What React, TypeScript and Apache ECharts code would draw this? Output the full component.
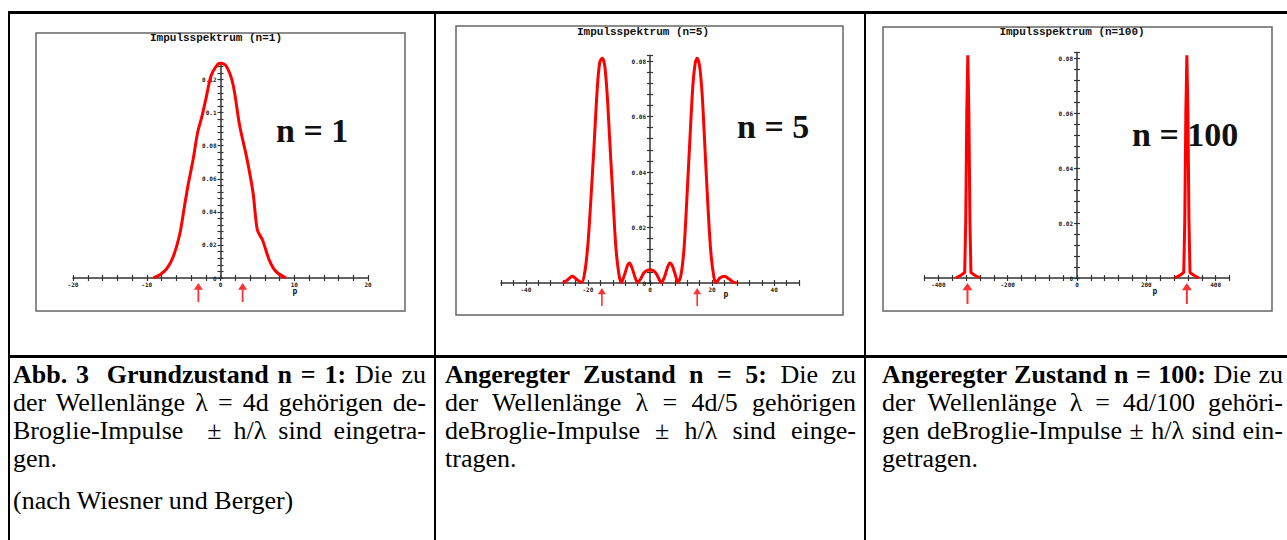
import React, { useEffect, useRef } from "react";
import * as echarts from "echarts";

// ---------- Data ----------
// Chart 1: Impulsspektrum (n=1)
const p1 = [-9.1, -8.2, -7.3, -6.4, -5.5, -4.9, -4.4, -3.7, -3.1, -2.5, -1.9, -1.3, -0.6, 0, 0.8, 1.7, 2.6, 3.5, 4.4, 5.0, 5.7, 6.6, 7.5, 8.9];
const v1 = [0, 0.002, 0.0055, 0.013, 0.027, 0.043, 0.056, 0.072, 0.088, 0.098, 0.11, 0.122, 0.128, 0.13, 0.128, 0.117, 0.092, 0.074, 0.052, 0.029, 0.023, 0.011, 0.004, 0];
const arrows1 = [-3.0, 3.0];

// Chart 2: Impulsspektrum (n=5)
const p2 = [-28, -26.5, -25, -23.5, -22, -21, -20, -19, -18, -17, -16.2, -15.4, -14.6, -13.8, -13, -12, -11, -10, -9.2, -8.2, -7.2, -6.6, -5.8, -4.8, -4.0, -3.0, -2.0, -1.0, 0, 1.0, 2.0, 3.0, 3.6, 4.6, 5.6, 6.4, 7.2, 8.2, 9.0, 10, 11, 12, 13, 13.8, 14.6, 15.2, 16, 16.8, 17.6, 18.6, 19.6, 20.6, 21.3, 22.5, 24, 25.5, 27, 28];
const v2 = [0, 0.0012, 0.0024, 0.0012, 0.0002, 0.004, 0.014, 0.031, 0.05, 0.07, 0.0795, 0.081, 0.0785, 0.068, 0.052, 0.032, 0.013, 0.003, 0.0002, 0.003, 0.0065, 0.0072, 0.0055, 0.002, 0.0002, 0.0015, 0.0036, 0.0045, 0.0048, 0.0045, 0.0034, 0.0012, 0.0001, 0.002, 0.0055, 0.0072, 0.0062, 0.0028, 0.0002, 0.003, 0.013, 0.033, 0.055, 0.071, 0.0795, 0.081, 0.078, 0.068, 0.051, 0.029, 0.011, 0.002, 0.0002, 0.0018, 0.0024, 0.0014, 0.0002, 0];
const arrows2 = [-15.5, 15.2];

// Chart 3: Impulsspektrum (n=100)
const p3Left = [-350, -335, -324, -321, -318, -315, -312, -309, -306, -295, -280];
const v3Left = [0, 0.001, 0.002, 0.021, 0.06, 0.081, 0.06, 0.021, 0.002, 0.001, 0];
const p3Right = [282, 297, 308, 311, 314, 317, 320, 323, 326, 337, 352];
const v3Right = [0, 0.001, 0.002, 0.021, 0.06, 0.081, 0.06, 0.021, 0.002, 0.001, 0];
const arrows3 = [-316, 317];

const titles = ["Impulsspektrum (n=1)", "Impulsspektrum (n=5)", "Impulsspektrum (n=100)"];
const stateLabels = ["n = 1", "n = 5", "n = 100"];
// [min, max, tick interval, label step]
const xScales = [
  [-20, 20, 2, 10],
  [-48, 48, 4, 20],
  [-440, 440, 40, 200],
];
const yScales = [
  [0, 0.13, 0.004, 0.02],
  [0, 0.082, 0.004, 0.02],
  [0, 0.082, 0.004, 0.02],
];
const axisName = "p";

// ---------- Layout ----------
const grids = [
  { left: 73, top: 63, width: 295, height: 215 },
  { left: 501, top: 55.5, width: 298, height: 227.5 },
  { left: 924.5, top: 52.5, width: 305, height: 225.5 },
];
const boxes = [
  { x: 36, y: 33, w: 369, h: 278 },
  { x: 456, y: 26, w: 387, h: 289 },
  { x: 883, y: 27, w: 389, h: 284 },
];
const titlePos = [
  [216, 38],
  [643, 32],
  [1072, 32],
];
const labelPos = [
  [276, 130],
  [737, 126],
  [1132, 134],
];
const namePos = [
  [295, 291],
  [726, 294],
  [1155, 291],
];
const arrowStyle = [
  { size: [9, 19], offset: 14.5 },
  { size: [8, 18], offset: 14 },
  { size: [10, 21], offset: 15.5 },
];

const RED = "#ff0000";
const AX = "#333333";
const ARROW = "path://M5 0 L10 7 L6 7 L6 20 L4 20 L4 7 L0 7 Z";

const isMultiple = (v: number, step: number) =>
  Math.abs(v / step - Math.round(v / step)) < 1e-6;

function buildOption() {
  const xAxis: any[] = [];
  const yAxis: any[] = [];
  const series: any[] = [];
  const graphic: any[] = [];

  for (let g = 0; g < 3; g++) {
    const [xmin, xmax, xint, xmaj] = xScales[g];
    const [ymin, ymax, yint, ymaj] = yScales[g];
    // the vertical axis sits at p = 0
    const zeroOffset = -(grids[g].width * (0 - xmin)) / (xmax - xmin);
    const zeroOffsetR = -(grids[g].width * (xmax - 0)) / (xmax - xmin);
    const labelBase = {
      fontSize: 6,
      fontWeight: "bold",
      color: "#222",
      fontFamily: "DejaVu Sans Mono",
    };
    xAxis.push({
      type: "value",
      gridIndex: g,
      min: xmin,
      max: xmax,
      interval: xint,
      position: "bottom",
      axisLine: { show: true, onZero: false, lineStyle: { color: AX, width: 1.5 } },
      axisTick: { show: true, length: 3, lineStyle: { color: AX, width: 1.2 } },
      axisLabel: {
        ...labelBase,
        margin: 3,
        formatter: (v: number) => (isMultiple(v, xmaj) ? String(Math.round(v)) : ""),
      },
      splitLine: { show: false },
    });
    xAxis.push({
      type: "value",
      gridIndex: g,
      min: xmin,
      max: xmax,
      interval: xint,
      position: "bottom",
      offset: 0,
      axisLine: { show: false, onZero: false },
      axisTick: { show: true, inside: true, length: 3, lineStyle: { color: AX, width: 1.2 } },
      axisLabel: { show: false },
      splitLine: { show: false },
    });
    yAxis.push({
      type: "value",
      gridIndex: g,
      min: ymin,
      max: ymax,
      interval: yint,
      position: "left",
      offset: zeroOffset,
      axisLine: { show: true, onZero: false, lineStyle: { color: AX, width: 1.5 } },
      axisTick: { show: true, length: 3, lineStyle: { color: AX, width: 1.2 } },
      axisLabel: {
        ...labelBase,
        margin: 4,
        formatter: (v: number) =>
          isMultiple(v, ymaj) ? (Math.abs(v) < 1e-9 ? "0" : String(parseFloat(v.toFixed(2)))) : "",
      },
      splitLine: { show: false },
    });
    yAxis.push({
      type: "value",
      gridIndex: g,
      min: ymin,
      max: ymax,
      interval: yint,
      position: "right",
      offset: zeroOffsetR,
      axisLine: { show: false, onZero: false },
      axisTick: { show: true, length: 3, lineStyle: { color: AX, width: 1.2 } },
      axisLabel: { show: false },
      splitLine: { show: false },
    });

    const b = boxes[g];
    graphic.push({
      type: "rect",
      z: 0,
      shape: { x: b.x, y: b.y, width: b.w, height: b.h },
      style: { fill: "none", stroke: "#666", lineWidth: 1.5 },
    });
    graphic.push({
      type: "text",
      z: 0,
      x: titlePos[g][0],
      y: titlePos[g][1],
      style: {
        text: titles[g],
        font: 'bold 11px "Liberation Mono"',
        fill: "#111",
        align: "center",
        verticalAlign: "middle",
      },
    });
    graphic.push({
      type: "text",
      z: 0,
      x: labelPos[g][0],
      y: labelPos[g][1],
      style: {
        text: stateLabels[g],
        font: 'bold 34px "Liberation Serif"',
        fill: "#111",
        align: "left",
        verticalAlign: "middle",
      },
    });
    graphic.push({
      type: "text",
      z: 0,
      x: namePos[g][0],
      y: namePos[g][1],
      style: {
        text: axisName,
        font: 'bold 8px "DejaVu Sans Mono"',
        fill: "#111",
        align: "center",
        verticalAlign: "middle",
      },
    });
  }

  const lineBase = {
    type: "line",
    symbol: "none",
    showSymbol: false,
    silent: true,
    z: 3,
    lineStyle: { color: RED, width: 3 },
    itemStyle: { color: RED },
  };

  series.push({ ...lineBase, xAxisIndex: 0, yAxisIndex: 0, smooth: 0.3, data: p1.map((p, i) => [p, v1[i]]) });
  series.push({ ...lineBase, xAxisIndex: 2, yAxisIndex: 2, smooth: 0.3, data: p2.map((p, i) => [p, v2[i]]) });
  series.push({ ...lineBase, xAxisIndex: 4, yAxisIndex: 4, data: p3Left.map((p, i) => [p, v3Left[i]]) });
  series.push({ ...lineBase, xAxisIndex: 4, yAxisIndex: 4, data: p3Right.map((p, i) => [p, v3Right[i]]) });

  const arrowSets = [arrows1, arrows2, arrows3];
  arrowSets.forEach((arr, g) => {
    series.push({
      type: "scatter",
      xAxisIndex: 2 * g,
      yAxisIndex: 2 * g,
      clip: false,
      silent: true,
      symbol: ARROW,
      symbolSize: arrowStyle[g].size,
      symbolOffset: [0, arrowStyle[g].offset],
      itemStyle: { color: RED },
      z: 4,
      data: arr.map((p) => [p, 0]),
    });
  });

  return {
    animation: false,
    backgroundColor: "#ffffff",
    grid: grids.map((gr) => ({ ...gr, containLabel: false, outerBoundsMode: "none" })),
    xAxis,
    yAxis,
    series,
    graphic,
  };
}

const captionFont: React.CSSProperties = {
  fontFamily: '"Liberation Serif", "Times New Roman", serif',
  fontSize: 26,
  lineHeight: "28px",
  color: "#000",
  position: "absolute",
};
const just: React.CSSProperties = { textAlign: "justify", textAlignLast: "justify" as any };
const left: React.CSSProperties = { textAlign: "left" };

export default function App() {
  const ref = useRef<HTMLDivElement>(null);
  useEffect(() => {
    if (!ref.current) return;
    const chart = echarts.init(ref.current, null, { renderer: "svg" });
    chart.setOption(buildOption() as any);
    return () => chart.dispose();
  }, []);

  const line = (l: number, t: number, w: number, h: number) => (
    <div style={{ position: "absolute", left: l, top: t, width: w, height: h, background: "#000" }} />
  );

  const textTop = 361;

  return (
    <div style={{ position: "absolute", left: 0, top: 0, width: 1287, height: 540, background: "#fff", overflow: "hidden" }}>
      <div ref={ref} style={{ position: "absolute", left: 0, top: 0, width: 1287, height: 340 }} />
      {line(8, 11, 1279, 3)}
      {line(8, 11, 2, 529)}
      {line(434, 11, 2, 529)}
      {line(864, 11, 2, 529)}
      {line(8, 355, 1279, 3)}

      <div style={{ ...captionFont, left: 13, top: textTop, width: 413 }}>
        <div style={just}>
          <b>Abb. 3{"\u00a0"} Grundzustand n = 1:</b> Die zu
        </div>
        <div style={just}>der Wellenlänge λ = 4d gehörigen de-</div>
        <div style={just}>Broglie-Impulse {"\u00a0"}± h/λ sind eingetra-</div>
        <div style={left}>gen.</div>
        <div style={{ ...left, marginTop: 14 }}>(nach Wiesner und Berger)</div>
      </div>

      <div style={{ ...captionFont, left: 445, top: textTop, width: 411 }}>
        <div style={just}>
          <b>Angeregter Zustand n = 5:</b> Die zu
        </div>
        <div style={just}>der Wellenlänge λ = 4d/5 gehörigen</div>
        <div style={just}>deBroglie-Impulse ± h/λ sind einge-</div>
        <div style={left}>tragen.</div>
      </div>

      <div style={{ ...captionFont, left: 882, top: textTop, width: 401 }}>
        <div style={just}>
          <b>Angeregter Zustand n = 100:</b> Die zu
        </div>
        <div style={just}>der Wellenlänge λ = 4d/100 gehöri-</div>
        <div style={just}>gen deBroglie-Impulse ± h/λ sind ein-</div>
        <div style={left}>getragen.</div>
      </div>
    </div>
  );
}
